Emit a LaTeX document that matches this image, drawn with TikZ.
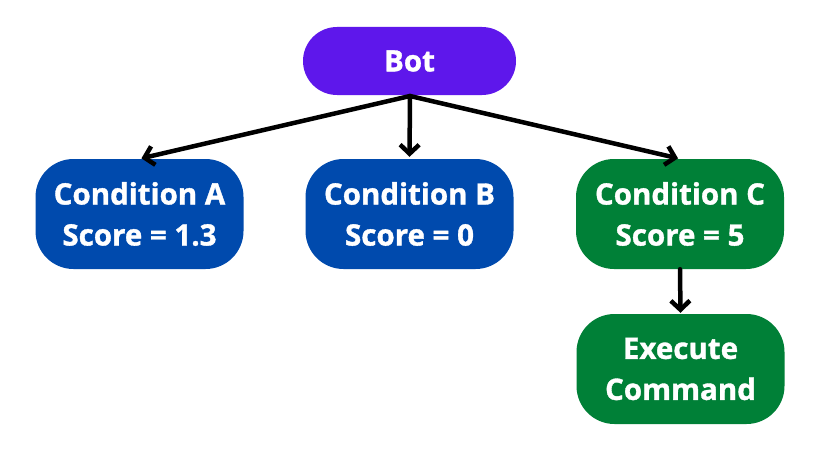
\documentclass[tikz,border=0pt]{standalone}
\usepackage{fontspec}
\setmainfont{Open Sans}[BoldFeatures={FakeBold=1.2}]
\usetikzlibrary{arrows.meta}
\definecolor{botpurple}{HTML}{5E17EB}
\definecolor{condblue}{HTML}{004AAD}
\definecolor{condgreen}{HTML}{008037}
\begin{document}
\begin{tikzpicture}[x=1pt,y=-1pt,
  box/.style={rounded corners=38pt, minimum width=208pt, minimum height=110pt, inner sep=0pt,
    text=white, font=\fontsize{29.5}{41}\selectfont\bfseries, align=center},
  conn/.style={line width=4.5pt, -{Straight Barb[length=9pt,width=19pt,line width=4.5pt]}, line cap=round}]
\useasboundingbox (0,0) rectangle (822,452);
\fill[white] (0,0) rectangle (822,452);
\node[box, fill=botpurple, rounded corners=34pt, minimum width=213pt, minimum height=68pt] (bot) at (409.5,61) {Bot};
\node[box, fill=condblue] (a) at (139.5,214) {Condition A\\Score = 1.3};
\node[box, fill=condblue] (b) at (409.5,214) {Condition B\\Score = 0};
\node[box, fill=condgreen] (c) at (680,214) {Condition C\\Score = 5};
\node[box, fill=condgreen] (e) at (680.5,369) {Execute\\Command};
\coordinate (s) at (410,96);
\draw[conn, shorten >=2pt] (s) -- (a.north);
\draw[conn, shorten >=2pt] (s) -- (b.north);
\draw[conn, shorten >=2pt] (s) -- (c.north);
\draw[conn, shorten >=1pt] (c.south) -- (e.north);
\end{tikzpicture}
\end{document}
